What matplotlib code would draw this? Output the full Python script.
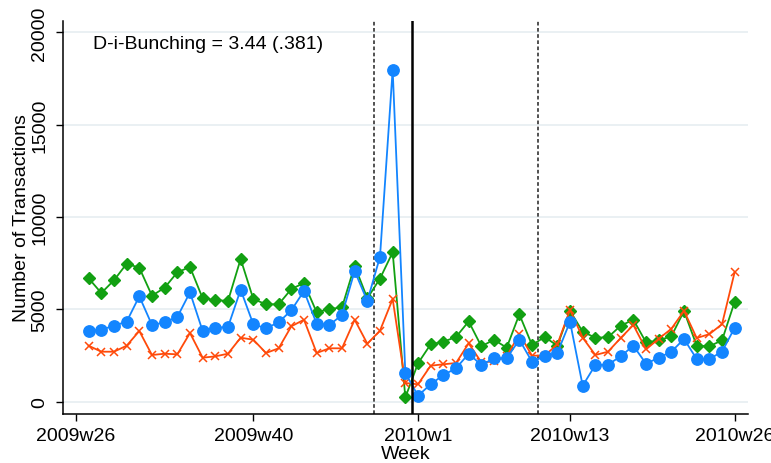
import matplotlib
matplotlib.use("Agg")
import matplotlib.pyplot as plt

plt.rcParams['font.family'] = ['Liberation Sans', 'DejaVu Sans']

# weeks counted from 2009w26 (52 weeks per year), data starts at 2009w27
weeks = list(range(1, 53))

tick_pos = [0, 14, 27, 39, 52]
tick_labels = ["2009w26", "2009w40", "2010w1", "2010w13", "2010w26"]

blue = [3830, 3900, 4117, 4334, 5709, 4155, 4300, 4588, 5926, 3830,
        4009, 4046, 6067, 4192, 3976, 4300, 4951, 5997, 4225, 4155,
        4697, 7080, 5455, 7850, 17980, 1555, 325, 943, 1446, 1809,
        2600, 1988, 2350, 2351, 3359, 2167, 2459, 2638, 4334, 867,
        1988, 2010, 2459, 3033, 2058, 2384, 2709, 3396, 2313, 2313,
        2709, 4009]

green = [6685, 5888, 6576, 7475, 7259, 5742, 6175, 7010, 7297, 5601,
         5510, 5455, 7730, 5563, 5276, 5276, 6105, 6430, 4843, 5021,
         5110, 7367, 5600, 6670, 8093, 230, 2080, 3109, 3250, 3505,
         4350, 3001, 3359, 2925, 4734, 3071, 3505, 3033, 4920, 3792,
         3467, 3490, 4117, 4442, 3217, 3326, 3543, 4913, 3033, 3001,
         3326, 5417]

orange = [3033, 2709, 2709, 3033, 3830, 2530, 2600, 2566, 3722, 2384,
          2457, 2600, 3467, 3359, 2638, 2893, 4084, 4442, 2638, 2893,
          2893, 4442, 3142, 3850, 5563, 1013, 943, 1950, 2026, 2096,
          3160, 2134, 2180, 2450, 3667, 2492, 2500, 3100, 4984, 3470,
          2530, 2709, 3450, 4155, 2836, 3410, 3950, 4920, 3450, 3660,
          4200, 7030]

dashed_lines = [23.5, 36.5]
policy_line = 26.5

fig = plt.figure(figsize=(7.71, 4.64), dpi=100)
ax = fig.add_axes([0.0821, 0.1056, 0.8879, 0.847])

for y in [0, 5000, 10000, 15000, 20000]:
    ax.axhline(y, color='#e8eff2', lw=1.3, zorder=0)

ax.plot(weeks, green, color='#12a012', marker='D', ms=6.0, lw=1.3, zorder=3)
ax.plot(weeks, orange, color='#ff4a0a', marker='x', ms=5.5, mew=1.1, lw=1.3, zorder=4)
ax.plot(weeks, blue, color='#1385ff', marker='o', ms=8.2, lw=1.3, zorder=5)

for x in dashed_lines:
    ax.axvline(x, color='#333333', lw=1.2, ls=(0, (2.2, 1.5)), zorder=2)
ax.axvline(policy_line, color='black', lw=1.8, zorder=6)

ax.text(1.34, 19380, "D-i-Bunching = 3.44 (.381)", fontsize=14, ha='left', va='center',
        bbox=dict(facecolor='white', edgecolor='none', pad=2), zorder=7)

ax.set_xlim(-1.0, 53.04)
ax.set_ylim(-666, 20623)
ax.set_xticks(tick_pos)
ax.set_xticklabels(tick_labels)
ax.set_yticks([0, 5000, 10000, 15000, 20000])
ax.set_yticklabels(["0", "5000", "10000", "15000", "20000"], rotation=90, va='center')

ax.tick_params(axis='both', labelsize=14, length=5, width=1, color='black')
ax.tick_params(axis='x', pad=4)
ax.tick_params(axis='y', pad=6)

for side in ['top', 'right']:
    ax.spines[side].set_visible(False)
for side in ['left', 'bottom']:
    ax.spines[side].set_linewidth(1.1)

ax.set_xlabel("Week", fontsize=14, labelpad=1)
ax.set_ylabel("Number of Transactions", fontsize=14, labelpad=1)

fig.savefig("out.png", dpi=100)
